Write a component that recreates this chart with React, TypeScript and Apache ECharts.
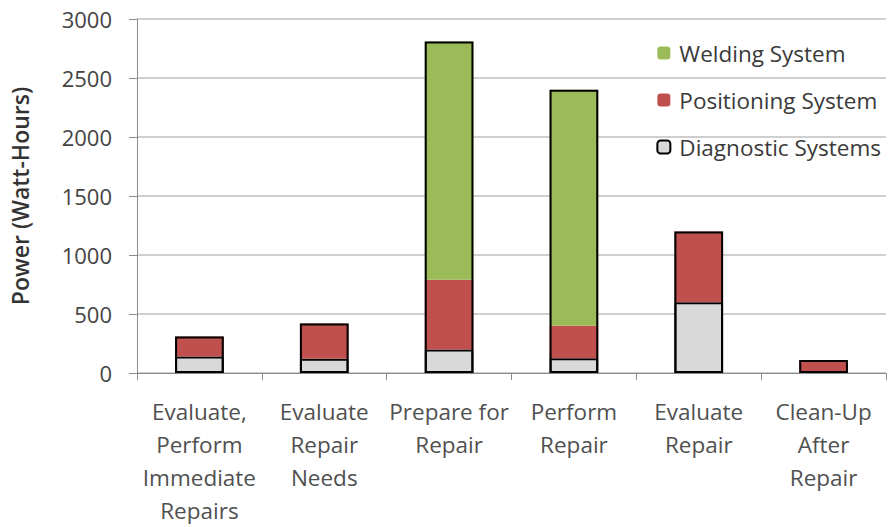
import React, { useEffect, useRef } from "react";
import * as echarts from "echarts";

const categories = [
  "Evaluate,\nPerform\nImmediate\nRepairs",
  "Evaluate\nRepair\nNeeds",
  "Prepare for\nRepair",
  "Perform\nRepair",
  "Evaluate\nRepair",
  "Clean-Up\nAfter\nRepair",
];
const diagnostic = [140, 120, 200, 125, 600, 0];
const positioning = [170, 300, 590, 275, 600, 110];
const welding = [0, 0, 2020, 2000, 0, 0];
const yTicks = [0, 500, 1000, 1500, 2000, 2500, 3000];

const totals = categories.map((_, i) => diagnostic[i] + positioning[i] + welding[i]);
const hideZero = (arr: number[]) => arr.map((v) => (v === 0 ? "-" : v));

const FONT = "'Open Sans', Lato, sans-serif";

export default function App() {
  const ref = useRef<HTMLDivElement>(null);
  useEffect(() => {
    if (!ref.current) return;
    const chart = echarts.init(ref.current, null, { renderer: "svg" });
    chart.setOption({
      animation: false,
      backgroundColor: "#ffffff",
      grid: { left: 136, right: 2, top: 19, bottom: 142, containLabel: false },
      legend: {
        orient: "vertical",
        right: 2,
        top: 35,
        itemWidth: 13,
        itemHeight: 13,
        itemGap: 21,
        data: ["Welding System", "Positioning System", "Diagnostic Systems"],
        textStyle: { fontFamily: FONT, fontSize: 22.5, color: "#3a3a3a", lineHeight: 26, padding: [0, 0, 0, 4] },
      },
      xAxis: {
        type: "category",
        data: categories,
        axisLine: { lineStyle: { color: "#8c8c8c", width: 1 } },
        axisTick: { show: true, length: 7, lineStyle: { color: "#8c8c8c" } },
        axisLabel: {
          interval: 0,
          margin: 22,
          fontFamily: FONT,
          fontSize: 22.5,
          lineHeight: 33,
          color: "#505050",
          align: "center",
        },
      },
      yAxis: {
        type: "value",
        min: yTicks[0],
        max: yTicks[yTicks.length - 1],
        interval: yTicks[1] - yTicks[0],
        name: "Power (Watt-Hours)",
        nameLocation: "middle",
        nameGap: 106,
        nameTextStyle: { fontFamily: FONT, fontSize: 23, fontWeight: 600, color: "#333" },
        axisLine: { show: true, lineStyle: { color: "#8c8c8c", width: 1 } },
        axisTick: { show: true, length: 8, lineStyle: { color: "#8c8c8c" } },
        axisLabel: {
          margin: 25,
          fontFamily: FONT,
          fontSize: 22,
          color: "#444",
          formatter: (v: number) => String(v),
        },
        splitLine: { lineStyle: { color: "#cfcfcf", width: 2 } },
      },
      series: [
        {
          name: "Diagnostic Systems",
          type: "bar",
          stack: "s",
          barWidth: "39%",
          data: hideZero(diagnostic),
          itemStyle: { color: "#D9D9D9", borderColor: "#000", borderWidth: 2 },
        },
        {
          name: "Positioning System",
          type: "bar",
          stack: "s",
          barWidth: "39%",
          data: hideZero(positioning),
          itemStyle: { color: "#C0504D" },
        },
        {
          name: "Welding System",
          type: "bar",
          stack: "s",
          barWidth: "39%",
          data: hideZero(welding),
          itemStyle: { color: "#9BBB59" },
        },
        {
          name: "outline",
          type: "bar",
          barWidth: "39%",
          barGap: "-100%",
          data: totals,
          z: 5,
          silent: true,
          itemStyle: { color: "rgba(0,0,0,0)", borderColor: "#000", borderWidth: 2 },
        },
      ],
    });
    return () => chart.dispose();
  }, []);
  return <div ref={ref} style={{ width: 888, height: 527, position: "absolute", left: 0, top: 0 }} />;
}
